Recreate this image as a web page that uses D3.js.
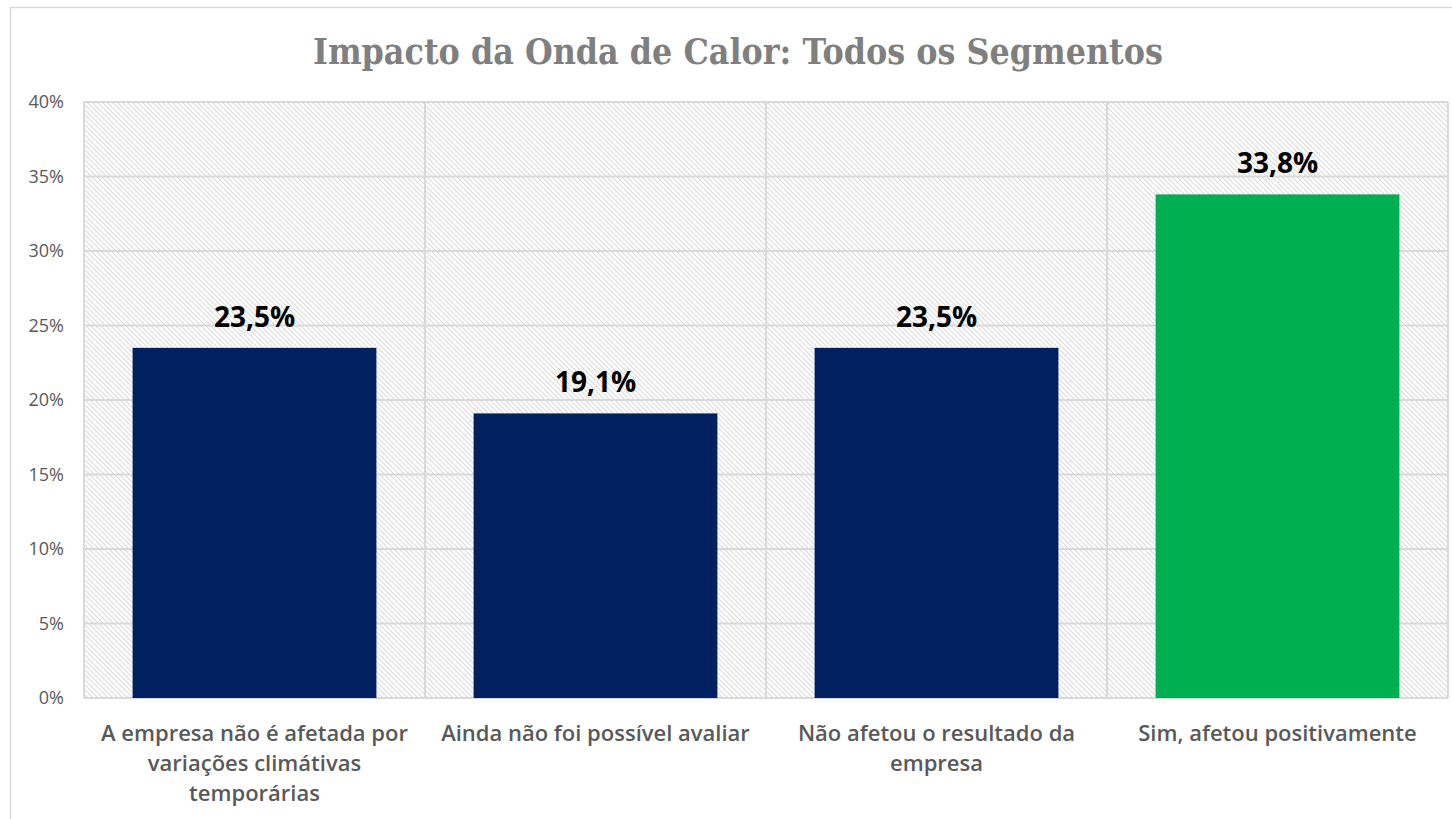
<!DOCTYPE html>
<html><head><meta charset="utf-8">
<script src="https://cdn.jsdelivr.net/npm/d3@7"></script>
<style>body{margin:0;background:#fff}svg{display:block}</style>
</head><body>
<svg id="c" width="1452" height="819"></svg>
<script>
const title = "Impacto da Onda de Calor: Todos os Segmentos";
const categories = [
  ["A empresa não é afetada por","variações climátivas","temporárias"],
  ["Ainda não foi possível avaliar"],
  ["Não afetou o resultado da","empresa"],
  ["Sim, afetou positivamente"]
];
const values = [23.5, 19.1, 23.5, 33.8];
const barColors = ["#002060","#002060","#002060","#00B050"];
const yTicks = [0,5,10,15,20,25,30,35,40];

const svg = d3.select("#c");
const m = {left:84, right:1448, top:102, bottom:698};
const font = "'Open Sans', Lato, sans-serif";

// frame
svg.append("rect").attr("x",10.5).attr("y",7.5).attr("width",1460).attr("height",830)
  .attr("fill","#fff").attr("stroke","#d9d9d9").attr("stroke-width",1.5);

// pattern
const defs = svg.append("defs");
const p = defs.append("pattern").attr("id","hatch").attr("patternUnits","userSpaceOnUse")
  .attr("width",5).attr("height",5);
p.append("rect").attr("width",5).attr("height",5).attr("fill","#fff");
p.append("path").attr("d","M-1,-1 L6,6 M-1,4 L1,6 M4,-1 L6,1").attr("stroke","#dadada").attr("stroke-width",1.1);

const x = d3.scaleBand().domain(d3.range(categories.length)).range([m.left,m.right]).padding(0);
const y = d3.scaleLinear().domain([0,40]).range([m.bottom,m.top]);

svg.append("rect").attr("x",m.left).attr("y",m.top).attr("width",m.right-m.left).attr("height",m.bottom-m.top)
  .attr("fill","url(#hatch)");

// grid
svg.append("g").selectAll("line").data(yTicks).join("line")
  .attr("x1",m.left).attr("x2",m.right).attr("y1",d=>y(d)).attr("y2",d=>y(d))
  .attr("stroke","#d9d9d9").attr("stroke-width",2);
svg.append("g").selectAll("line").data(d3.range(categories.length+1)).join("line")
  .attr("x1",d=>m.left+d*x.step()).attr("x2",d=>m.left+d*x.step()).attr("y1",m.top).attr("y2",m.bottom)
  .attr("stroke","#d9d9d9").attr("stroke-width",2);

// y axis labels
svg.append("g").selectAll("text").data(yTicks).join("text")
  .attr("x",64).attr("y",d=>y(d)).attr("dy","0.35em").attr("text-anchor","end")
  .attr("font-family",font).attr("font-size",18).attr("fill","#595959")
  .text(d=>d+"%");

// bars
const bw = x.bandwidth()*0.715;
svg.append("g").selectAll("rect").data(values).join("rect")
  .attr("x",(d,i)=>x(i)+(x.bandwidth()-bw)/2).attr("width",bw)
  .attr("y",d=>y(d)).attr("height",d=>y(0)-y(d))
  .attr("fill",(d,i)=>barColors[i]);

// value labels
svg.append("g").selectAll("text").data(values).join("text")
  .attr("x",(d,i)=>x(i)+x.bandwidth()/2).attr("y",d=>y(d)-21)
  .attr("text-anchor","middle").attr("font-family",font).attr("font-weight","bold")
  .attr("font-size",28).attr("fill","#000")
  .text(d=>d.toFixed(1).replace(".",",")+"%");

// category labels
const cg = svg.append("g");
categories.forEach((lines,i)=>{
  lines.forEach((t,j)=>{
    cg.append("text").attr("x",x(i)+x.bandwidth()/2).attr("y",741+j*30)
      .attr("text-anchor","middle").attr("font-family",font).attr("font-weight",600)
      .attr("font-size",22).attr("fill","#595959").text(t);
  });
});

// title
svg.append("text").attr("x",738).attr("y",64).attr("text-anchor","middle")
  .attr("font-family","'DejaVu Serif','Liberation Serif',serif").attr("font-weight","bold")
  .attr("font-size",35).attr("fill","#7f7f7f")
  .attr("textLength",850).attr("lengthAdjust","spacingAndGlyphs")
  .text(title);
</script>
</body></html>
